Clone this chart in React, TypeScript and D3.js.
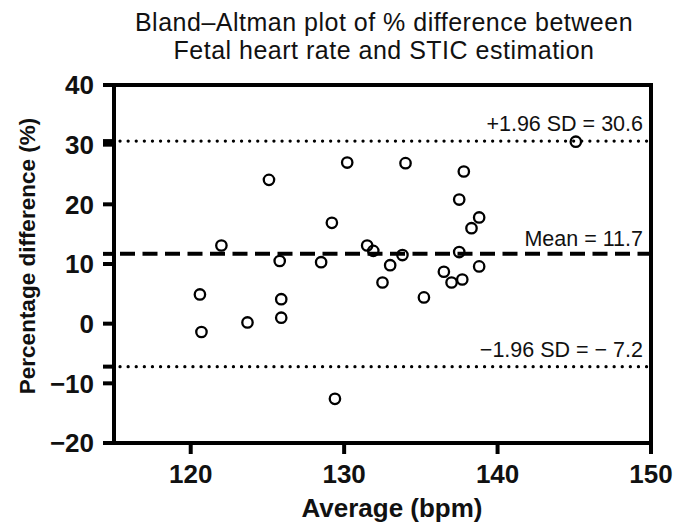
import React from "react";
import * as d3 from "d3";

const avgBpm = [120.6, 120.7, 122.0, 123.7, 125.1, 125.8, 125.9, 125.9, 128.5, 129.2, 129.4, 130.2, 131.5, 131.9, 132.5, 133.0, 133.8, 134.0, 135.2, 136.5, 137.0, 137.5, 137.5, 137.7, 137.8, 138.3, 138.8, 138.8, 145.1];
const pctDiff = [4.9, -1.4, 13.1, 0.2, 24.1, 10.5, 4.1, 1.0, 10.3, 16.9, -12.6, 27.0, 13.1, 12.2, 6.9, 9.8, 11.5, 26.9, 4.4, 8.7, 6.9, 20.8, 12.0, 7.4, 25.5, 16.0, 17.8, 9.6, 30.5];
const xTicks = [120, 130, 140, 150];
const yTicks = [-20, -10, 0, 10, 20, 30, 40];
const meanDiff = 11.7;
const upperLoA = 30.6;
const lowerLoA = -7.2;
const refLabels = ["+1.96 SD = 30.6", "Mean = 11.7", "\u22121.96 SD = \u2212 7.2"];
const titleLines = ["Bland\u2013Altman plot of % difference between", "Fetal heart rate and STIC estimation"];
const xTitle = "Average (bpm)";
const yTitle = "Percentage difference (%)";

const W = 676, H = 525;
const FONT = "'Liberation Sans', Arial, Helvetica, sans-serif";

export default function App() {
  const x = d3.scaleLinear().domain([115, 150]).range([114, 651]);
  const y = d3.scaleLinear().domain([-20, 40]).range([443, 85]);
  const x0 = x.range()[0], x1 = x.range()[1];
  const refs = [
    { v: upperLoA, dash: "0.1 8", w: 3.2, label: refLabels[0], off: 10 },
    { v: meanDiff, dash: "15 7.5", w: 4, label: refLabels[1], off: 7.5, butt: true },
    { v: lowerLoA, dash: "0.1 8", w: 3.2, label: refLabels[2], off: 9.5 },
  ];
  const extraTicks = [upperLoA, meanDiff, lowerLoA];
  return (
    <svg width={W} height={H} style={{ position: "absolute", left: 0, top: 0, background: "#fff" }} fontFamily={FONT}>
      <rect x={0} y={0} width={W} height={H} fill="#fff" />
      {titleLines.map((t, i) => (
        <text key={i} x={384} y={30.5 + i * 28.5} textAnchor="middle" fontSize={25} letterSpacing={0.5} fill="#111">{t}</text>
      ))}
      {refs.map((r, i) => (
        <g key={i}>
          <line x1={x0 + 6} x2={x1} y1={y(r.v)} y2={y(r.v)} stroke="#000" strokeWidth={r.w}
            strokeDasharray={r.dash} strokeLinecap={r.butt ? "butt" : "round"} />
          <text x={x1 - 8} y={y(r.v) - r.off} textAnchor="end" fontSize={21.5} fill="#111">{r.label}</text>
        </g>
      ))}
      {avgBpm.map((a, i) => (
        <circle key={i} cx={x(a)} cy={y(pctDiff[i])} r={5.2} fill="none" stroke="#000" strokeWidth={2.3} />
      ))}
      <rect x={x0} y={y(40)} width={x1 - x0} height={y(-20) - y(40)} fill="none" stroke="#000" strokeWidth={4} />
      {yTicks.concat(extraTicks).map((t, i) => (
        <line key={i} x1={x0 - 11} x2={x0} y1={y(t)} y2={y(t)} stroke="#000" strokeWidth={4} />
      ))}
      {yTicks.map((t) => (
        <text key={t} x={x0 - 20} y={y(t)} dy="0.36em" textAnchor="end" fontSize={26} fontWeight="bold" fill="#111">
          {t < 0 ? "\u2212" + Math.abs(t) : t}
        </text>
      ))}
      {xTicks.map((t) => (
        <g key={t}>
          <line x1={x(t)} x2={x(t)} y1={y(-20)} y2={y(-20) + 11} stroke="#000" strokeWidth={4} />
          <text x={x(t)} y={483} textAnchor="middle" fontSize={26} fontWeight="bold" fill="#111">{t}</text>
        </g>
      ))}
      <text x={392} y={517} textAnchor="middle" fontSize={26} fontWeight="bold" fill="#111">{xTitle}</text>
      <text transform={`translate(35,${256}) rotate(-90)`} textAnchor="middle" fontSize={22.5} fontWeight="bold" fill="#111">{yTitle}</text>
    </svg>
  );
}
